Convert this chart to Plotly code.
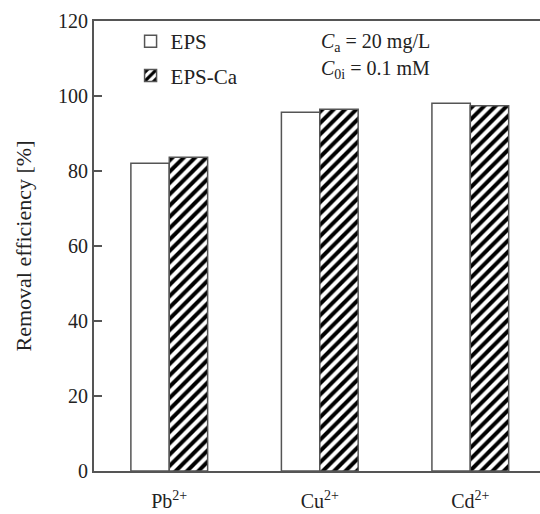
import plotly.graph_objects as go

categories = ["Pb<sup>2+</sup>", "Cu<sup>2+</sup>", "Cd<sup>2+</sup>"]
eps = [82.1, 95.7, 98.1]
eps_ca = [83.7, 96.5, 97.4]
y_ticks = [0, 20, 40, 60, 80, 100, 120]

FONT = "Liberation Serif, Times New Roman, serif"
LINE = "#555555"
TXT = "#222222"

fig = go.Figure()
fig.add_trace(go.Bar(
    x=categories, y=eps, name="EPS", legendgroup="a",
    marker=dict(color="white", line=dict(color=LINE, width=1.5)),
))
fig.add_trace(go.Bar(
    x=categories, y=eps_ca, name="EPS-Ca", legendgroup="b",
    marker=dict(color="white", line=dict(color=LINE, width=1.5),
                pattern=dict(shape="/", fgcolor="black", bgcolor="white",
                             fgopacity=1, size=8, solidity=0.5)),
))

fig.update_layout(
    width=540, height=514,
    margin=dict(l=94, r=0, t=21, b=43),
    paper_bgcolor="white", plot_bgcolor="white",
    barmode="group", bargap=0.49, bargroupgap=0,
    font=dict(family=FONT, size=20, color=TXT),
    showlegend=True,
    legend=dict(x=0.082, y=1.0, xanchor="left", yanchor="top",
                font=dict(size=21, family=FONT, color=TXT),
                traceorder="grouped", tracegroupgap=4,
                bgcolor="rgba(0,0,0,0)"),
    xaxis=dict(
        range=[-0.5, 2.463], showline=True, linecolor=LINE, linewidth=2,
        mirror=True, ticks="", showgrid=False, zeroline=False,
        tickfont=dict(size=20, family=FONT, color=TXT),
        ticklabelstandoff=11,
    ),
    yaxis=dict(
        range=[0, 120], tickvals=y_ticks, showline=True, linecolor=LINE, linewidth=2,
        ticks="inside", ticklen=8, tickwidth=2, tickcolor=LINE,
        showgrid=False, zeroline=False,
        tickfont=dict(size=20, family=FONT, color=TXT),
        title=dict(text="Removal efficiency [%]", font=dict(size=22, family=FONT, color=TXT), standoff=20),
    ),
)

fig.add_annotation(xref="paper", yref="paper", x=(319-94)/446, y=(471.5-43)/450.5,
                   xanchor="left", yanchor="middle", showarrow=False,
                   text="<i>C</i><sub>a</sub> = 20 mg/L", font=dict(size=20, family=FONT, color=TXT))
fig.add_annotation(xref="paper", yref="paper", x=(319-94)/446, y=(471.5-70)/450.5,
                   xanchor="left", yanchor="middle", showarrow=False,
                   text="<i>C</i><sub>0i</sub> = 0.1 mM", font=dict(size=20, family=FONT, color=TXT))

fig.write_html("out.html")
